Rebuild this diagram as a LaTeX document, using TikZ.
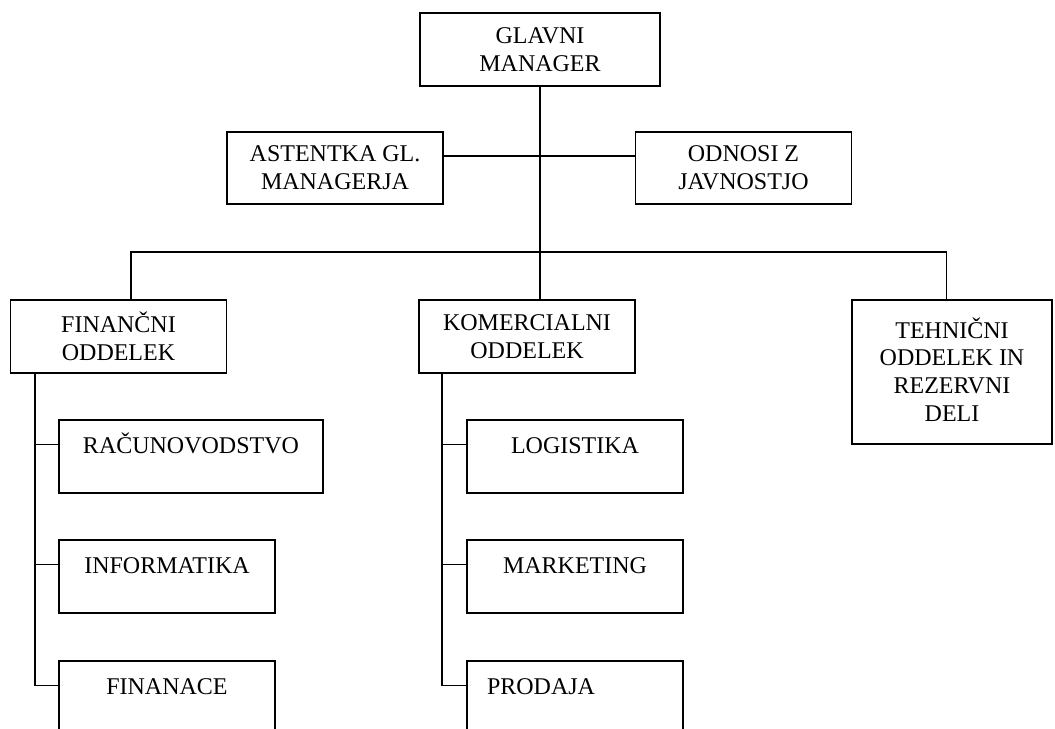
\documentclass[tikz,border=0pt]{standalone}
\usepackage{fontspec}
\setmainfont{Liberation Serif}
\begin{document}
\begin{tikzpicture}[x=0.75pt, y=-0.75pt, line width=1.2pt,
        okvir/.style={draw, inner sep=2pt, align=center, font=\fontsize{18}{20.8}\selectfont},
        oddelek/.style={okvir, minimum width=162pt, minimum height=54.75pt},
        podokvir/.style={oddelek, text height=13pt, text depth=18.25pt}]
        \useasboundingbox (0,0) rectangle (1055,728);
        \node[okvir, minimum width=180pt, minimum height=54.75pt] (glavni) at (540,49.5) {GLAVNI\\MANAGER};
        \node[okvir, minimum width=162pt, minimum height=54pt] (asist) at (335,168) {ASTENTKA GL.\\MANAGERJA};
        \node[okvir, minimum width=162pt, minimum height=54pt] (odnosi) at (743.5,168) {ODNOSI Z\\JAVNOSTJO};
        \node[oddelek] (fin) at (118.5,336.5) {FINANČNI\\ODDELEK};
        \node[oddelek] (kom) at (527,336.5) {KOMERCIALNI\\ODDELEK};
        \node[okvir, minimum width=150pt, minimum height=108pt, text depth=4pt] (teh) at (952,372) {TEHNIČNI\\ODDELEK IN\\REZERVNI\\DELI};
        \node[podokvir, minimum width=198pt] (racun) at (191,456.5) {RAČUNOVODSTVO};
        \node[podokvir] (info) at (167,576.5) {INFORMATIKA};
        \node[podokvir] (finan) at (167,697.5) {FINANACE};
        \node[podokvir] (logi) at (575,456.5) {LOGISTIKA};
        \node[podokvir] (mark) at (575,576.5) {MARKETING};
        \node[podokvir, text width=132pt, inner xsep=15pt, align=left] (prod) at (575,697.5) {PRODAJA};
        % povezave
        \coordinate (stik) at (540,156);
        \coordinate (razvod) at (540,252);
        \draw (glavni) -- (razvod);
        \draw (asist.east |- stik) -- (odnosi.west |- stik);
        \draw ([xshift=9.4pt]fin.north) |- (razvod) -| ([xshift=-4pt]teh.north);
        \draw (razvod) -- (razvod |- kom.north);
        \draw ([xshift=18.75pt]fin.south west) |- ([yshift=9pt]finan.west);
        \draw ([xshift=18pt]kom.south west) |- ([yshift=9pt]prod.west);
        \foreach \n in {racun, info, logi, mark}
            \draw ([yshift=9pt]\n.west) -- +(-18pt,0);
\end{tikzpicture}
\end{document}
